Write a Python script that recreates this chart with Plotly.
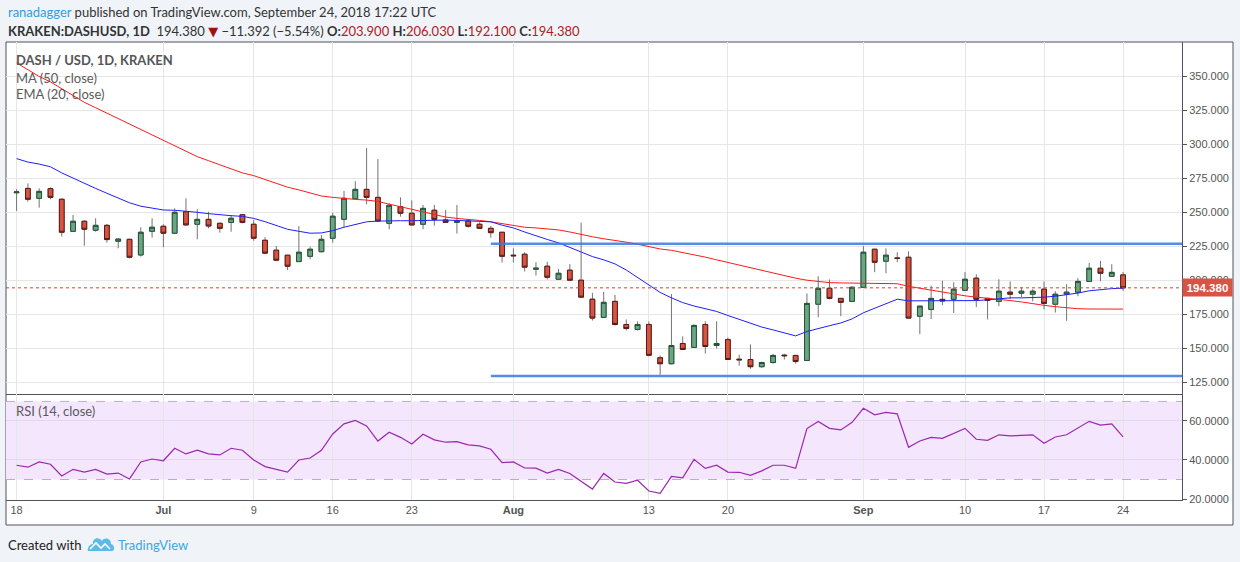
import numpy as np
import pandas as pd
import plotly.graph_objects as go

# ---------------- data ----------------
dates = pd.date_range("2018-06-18", periods=99, freq="D").strftime("%Y-%m-%d").tolist()

open_ = [264.4, 267.6, 260.3, 267.4, 259.6, 236.0, 243.4, 236.8, 240.4, 228.7,
         230.1, 218.6, 236.0, 239.7, 234.6, 250.4, 241.2, 244.8, 241.9, 242.6,
         248.2, 241.2, 229.4, 222.1, 218.4, 213.7, 217.6, 221.0, 230.9, 244.8,
         260.0, 266.9, 261.0, 241.9, 254.1, 249.3, 241.2, 251.5, 244.3, 242.6,
         243.6, 241.2, 238.2, 235.3, 218.4, 219.1, 208.1, 210.3, 200.7, 207.4,
         200.0, 186.0, 172.6, 184.4, 167.4, 163.7, 167.4, 142.9, 138.5, 153.4,
         150.5, 167.4, 151.9, 156.3, 141.8, 141.6, 136.3, 139.4, 144.8, 144.6,
         140.9, 182.3, 194.0, 186.6, 184.4, 194.8, 222.8, 214.0, 216.4, 216.9,
         173.5, 178.5, 185.9, 185.9, 192.6, 201.5, 186.6, 184.4, 191.2, 190.4,
         189.7, 193.4, 182.3, 189.7, 191.2, 199.1, 208.8, 202.9, 203.9]
high = [267.0, 271.3, 267.6, 268.4, 260.2, 248.0, 244.0, 245.6, 241.4, 230.8,
        230.5, 239.0, 245.6, 241.2, 252.9, 260.3, 252.2, 250.4, 242.5, 248.0,
        248.5, 244.3, 231.6, 225.2, 218.6, 239.9, 224.7, 233.3, 249.7, 265.7,
        272.9, 297.3, 289.2, 256.6, 261.0, 258.8, 255.4, 255.4, 251.7, 255.4,
        245.0, 242.5, 239.9, 235.5, 223.5, 220.6, 213.2, 213.5, 208.3, 211.8,
        242.4, 190.7, 191.4, 189.2, 171.1, 169.6, 169.6, 144.6, 189.9, 158.6,
        167.4, 169.8, 169.8, 157.8, 145.1, 152.7, 140.0, 145.8, 145.8, 145.0,
        190.2, 202.9, 200.5, 186.8, 195.4, 225.2, 223.0, 223.5, 220.6, 221.3,
        181.0, 196.0, 199.6, 198.5, 206.1, 204.4, 187.0, 200.7, 199.1, 194.8,
        193.4, 199.1, 191.9, 197.1, 201.5, 212.7, 214.2, 211.8, 206.03]
low = [251.0, 257.8, 253.4, 259.6, 232.1, 235.5, 225.4, 235.7, 227.6, 223.5,
       216.1, 217.4, 231.3, 224.3, 234.3, 240.5, 230.1, 238.2, 235.0, 235.7,
       241.9, 229.1, 219.6, 214.5, 207.4, 213.5, 215.4, 220.5, 227.6, 239.0,
       259.8, 255.9, 243.2, 237.5, 246.8, 240.4, 237.5, 240.1, 242.4, 234.3,
       238.7, 237.8, 231.3, 213.0, 213.0, 206.4, 203.4, 200.5, 200.5, 199.8,
       187.0, 170.3, 172.4, 166.6, 163.0, 163.0, 144.0, 130.3, 138.0, 148.8,
       150.3, 146.0, 149.7, 141.4, 137.1, 134.8, 135.5, 138.5, 141.6, 138.5,
       140.7, 172.6, 185.9, 173.5, 184.0, 194.5, 205.9, 205.1, 213.2, 171.8,
       160.3, 171.4, 181.6, 175.9, 192.4, 180.2, 171.1, 180.9, 185.9, 187.5,
       184.4, 178.5, 176.2, 170.1, 188.2, 198.9, 199.1, 202.7, 192.1]
close = [265.0, 259.6, 265.4, 261.0, 235.3, 243.4, 237.5, 240.4, 229.9, 230.3,
         216.9, 235.3, 239.0, 234.6, 250.0, 240.7, 244.8, 239.9, 238.2, 245.6,
         242.6, 230.9, 219.9, 214.7, 210.3, 220.6, 222.8, 230.1, 247.1, 260.3,
         266.9, 261.0, 243.6, 255.1, 249.3, 240.7, 252.9, 244.8, 242.6, 243.4,
         239.7, 238.2, 235.0, 217.6, 218.0, 209.6, 208.8, 202.2, 205.1, 200.0,
         187.5, 172.1, 183.7, 167.4, 164.4, 167.4, 144.7, 138.5, 151.9, 149.0,
         166.7, 151.2, 153.4, 141.6, 141.4, 136.3, 139.4, 144.6, 144.4, 140.1,
         182.9, 194.0, 186.6, 183.7, 194.8, 220.6, 213.2, 218.4, 216.0, 172.1,
         180.9, 186.6, 184.7, 193.4, 200.7, 185.9, 185.1, 191.9, 189.7, 191.9,
         191.9, 182.9, 189.7, 191.2, 199.1, 208.8, 205.1, 205.77, 194.38]

ma50 = [360, 355, 350, 346, 341, 336, 331, 327, 323, 319,
        315, 311, 307, 303, 299, 295, 291, 288, 285, 282,
        279, 277, 274, 271, 268.5, 266.5, 264, 262, 261, 260,
        259.5, 259, 258, 256, 254, 252.5, 250.5, 248.5, 246.5, 245.5,
        245, 244, 243, 241.5, 240, 239, 238.5, 238, 237, 235.5,
        233.5, 232, 230.5, 229.5, 228, 226.5, 224.5, 223, 222, 220.5,
        219, 217, 215, 213, 211, 209, 207.5, 205.5, 203.5, 201.5,
        200, 199, 198.2, 198, 197.8, 197.8, 197.8, 197.6, 197.4, 195.5,
        194, 192.5, 191, 189.5, 188.5, 187.5, 186.8, 185.8, 185, 184,
        182.5, 181.5, 180.5, 179.5, 179, 178.8, 178.8, 178.7, 178.7]
ema20 = [289.5, 287, 285.5, 283.5, 279, 275, 271, 267.6, 264, 260.5,
         257, 254.5, 253, 251.7, 251.5, 251, 250, 249, 248, 247.5,
         247, 245.5, 243.1, 240.5, 237.5, 236, 234.6, 234.8, 236.5, 239,
         241, 243, 243.5, 243.8, 243.8, 243.8, 244, 244.3, 244.3, 244,
         243.8, 243.5, 243, 240.5, 238.5, 235.5, 232.5, 230, 227.5, 224,
         221, 217.4, 215, 212, 207.5, 202, 196, 191, 187, 183.5,
         181, 178.8, 177, 174, 171, 168, 165.5, 163.4, 161, 159,
         162.2, 164.5, 166.5, 168.5, 171.5, 176, 179.5, 183, 186, 184.8,
         184.8, 184.8, 184.8, 184.8, 184.8, 185, 185.5, 186.5, 187, 187,
         187.2, 187.5, 188.2, 189.3, 190.5, 192.2, 193.2, 193.8, 194.1]
rsi = [37.3, 36.3, 39.0, 37.8, 31.8, 35.2, 33.8, 35.2, 32.8, 33.3,
       30.3, 39.0, 40.5, 39.6, 46.0, 43.1, 45.0, 43.1, 42.6, 46.0,
       45.0, 40.0, 36.6, 35.2, 33.8, 40.0, 41.0, 45.0, 53.3, 58.5,
       60.3, 57.4, 49.7, 54.2, 51.6, 48.2, 53.2, 50.3, 49.1, 49.4,
       47.7, 47.2, 45.5, 38.6, 39.0, 35.9, 35.8, 33.3, 35.2, 33.1,
       29.2, 25.1, 33.1, 28.7, 28.0, 29.6, 24.1, 22.9, 31.6, 30.9,
       40.3, 35.7, 37.3, 33.8, 33.7, 32.1, 34.4, 37.3, 37.3, 35.7,
       56.1, 59.7, 56.2, 55.4, 59.3, 66.5, 63.1, 64.4, 63.6, 46.5,
       49.7, 51.6, 51.1, 53.7, 56.2, 50.6, 50.1, 52.9, 52.3, 52.6,
       52.9, 48.6, 51.8, 52.9, 56.2, 59.8, 57.9, 58.5, 51.8]

levels = [226.8, 129.4]          # drawn horizontal trend lines
level_start = "2018-07-30"
last_price = 194.38

x_range = ["2018-06-17 01:28", "2018-09-29 05:17"]
tick_dates = ["2018-06-18", "2018-07-01", "2018-07-09", "2018-07-16", "2018-07-23",
              "2018-08-01", "2018-08-13", "2018-08-20", "2018-09-01", "2018-09-10",
              "2018-09-17", "2018-09-24"]
tick_text = ["18", "<b>Jul</b>", "9", "16", "23", "<b>Aug</b>", "13", "20",
             "<b>Sep</b>", "10", "17", "24"]
price_ticks = [125, 150, 175, 200, 225, 250, 275, 300, 325, 350]
rsi_ticks = [20, 40, 60]

# ---------------- style ----------------
UP_FILL, UP_LINE = "#6ba583", "#225437"
DN_FILL, DN_LINE = "#d75442", "#5b1a13"
WICK = "#737375"
GRID = "#e6e6e6"
FRAME = "#50535e"
AX_FONT = dict(family="Liberation Sans, Arial", size=11, color="#555555")
TXT = "Lato, Noto Sans, DejaVu Sans"

o = np.array(open_); c = np.array(close)
body_hi = np.maximum(o, c)
body_lo = np.minimum(o, c)

fig = go.Figure()

# wicks (gray)
fig.add_trace(go.Candlestick(
    x=dates, open=open_, high=high, low=low, close=close,
    increasing=dict(line=dict(color=WICK, width=1), fillcolor=UP_FILL),
    decreasing=dict(line=dict(color=WICK, width=1), fillcolor=DN_FILL),
    xaxis="x", yaxis="y", hoverinfo="skip", showlegend=False))
# bodies
fig.add_trace(go.Candlestick(
    x=dates, open=open_, high=body_hi, low=body_lo, close=close,
    increasing=dict(line=dict(color=UP_LINE, width=1), fillcolor=UP_FILL),
    decreasing=dict(line=dict(color=DN_LINE, width=1), fillcolor=DN_FILL),
    xaxis="x", yaxis="y", hoverinfo="skip", showlegend=False))

fig.add_trace(go.Scatter(x=dates, y=ma50, mode="lines",
                         line=dict(color="#ff1a1a", width=1), xaxis="x", yaxis="y",
                         hoverinfo="skip", showlegend=False))
fig.add_trace(go.Scatter(x=dates, y=ema20, mode="lines",
                         line=dict(color="#1f1fff", width=1), xaxis="x", yaxis="y",
                         hoverinfo="skip", showlegend=False))
for lv in levels:
    fig.add_trace(go.Scatter(x=[level_start, x_range[1]], y=[lv, lv], mode="lines",
                             line=dict(color="rgba(58,120,222,0.85)", width=2.5),
                             xaxis="x", yaxis="y", hoverinfo="skip", showlegend=False))

fig.add_trace(go.Scatter(x=dates, y=rsi, mode="lines",
                         line=dict(color="#9c27b0", width=1.2), xaxis="x2", yaxis="y2",
                         hoverinfo="skip", showlegend=False))

# ---------------- geometry ----------------
W, H = 1240, 562
L, R, T, B = 6, 58, 42, 62
pw, ph = W - L - R, H - T - B
def px(xp): return (xp - L) / pw
def py(yp): return (H - B - yp) / ph
split = py(394)

shapes = [
    dict(type="rect", xref="paper", yref="paper", x0=0, x1=px(1233), y0=py(525), y1=1,
         fillcolor="white", line=dict(color=FRAME, width=1), layer="below"),
    dict(type="rect", xref="paper", yref="y2", x0=0, x1=1, y0=30, y1=70,
         fillcolor="#f3e6fd", line=dict(width=0), layer="below"),
    dict(type="line", xref="paper", yref="y2", x0=0, x1=1, y0=70, y1=70,
         line=dict(color="#b8b0c0", width=1, dash="dash")),
    dict(type="line", xref="paper", yref="y2", x0=0, x1=1, y0=30, y1=30,
         line=dict(color="#b8b0c0", width=1, dash="dash")),
    dict(type="line", xref="paper", yref="y", x0=0, x1=1, y0=last_price, y1=last_price,
         line=dict(color="#e8392b", width=1, dash="dot")),
    # TradingView logo
    dict(type="path", xref="paper", yref="paper", xsizemode="pixel", ysizemode="pixel",
         xanchor=px(88), yanchor=py(551),
         path="M0,0 L24,0 C27,0 27,6 23,7 C23,13 16,14 14,10 C11,15 4,13 5,7 C1,7 -1,2 0,0 Z",
         fillcolor="#5bbbe8", line=dict(width=0)),
    dict(type="path", xref="paper", yref="paper", xsizemode="pixel", ysizemode="pixel",
         xanchor=px(88), yanchor=py(551),
         path="M2,2 L8,8 L13,3 L17,7 L22,2",
         line=dict(color="white", width=1.6)),
]

ann = []
def a(x, y, text, size=13, color="#333", family=TXT, xanchor="left", **kw):
    ann.append(dict(xref="paper", yref="paper", x=px(x), y=py(y), text=text,
                    showarrow=False, xanchor=xanchor, yanchor="middle",
                    font=dict(family=family, size=size, color=color), **kw))

a(6, 12, "<span style='color:#2f9ee6'>ranadagger</span> published on TradingView.com, September 24, 2018 17:22 UTC")
RED = "#b0201e"
a(6, 31, "<b>KRAKEN:DASHUSD, 1D</b>  194.380 <span style='color:#9e1212'>▼</span> −11.392 (−5.54%) "
         f"<b>O:</b><span style='color:{RED}'>203.900</span> <b>H:</b><span style='color:{RED}'>206.030</span> "
         f"<b>L:</b><span style='color:{RED}'>192.100</span> <b>C:</b><span style='color:{RED}'>194.380</span>")
a(14, 60, "<b>DASH / USD, 1D, KRAKEN</b>", color="#555555")
a(14, 78, "MA (50, close)", color="#5a5a5a")
a(14, 94, "EMA (20, close)", color="#5a5a5a")
a(14, 411, "RSI (14, close)", color="#5a5a5a")
a(6, 545, "Created with", color="#222")
a(116, 545, "TradingView", color="#3ba7e6")

ann.append(dict(xref="paper", yref="y", x=1, y=last_price, text="<b>194.380</b>",
                showarrow=False, xanchor="left", yanchor="middle", bgcolor="#d75442",
                width=47, height=15, borderpad=1, align="center",
                font=dict(family="Liberation Sans, Arial", size=11.5, color="white")))

fig.update_layout(
    width=W, height=H, margin=dict(l=L, r=R, t=T, b=B),
    paper_bgcolor="#f0f3f7", plot_bgcolor="rgba(0,0,0,0)",
    boxgap=0.4, showlegend=False, hovermode=False,
    shapes=shapes, annotations=ann,
    xaxis=dict(type="date", domain=[0, 1], anchor="y", range=x_range,
               tickvals=tick_dates, ticktext=tick_text, showticklabels=False,
               showgrid=True, gridcolor=GRID, zeroline=False,
               showline=True, linecolor=FRAME, linewidth=1,
               rangeslider=dict(visible=False)),
    yaxis=dict(domain=[split, 1], anchor="x", side="right", range=[116.2, 375.4],
               tickvals=price_ticks, ticktext=[f"{v:.3f}" for v in price_ticks],
               ticks="outside", ticklen=4, tickcolor="#555", tickfont=AX_FONT,
               showgrid=True, gridcolor=GRID, zeroline=False,
               showline=True, linecolor=FRAME, linewidth=1),
    xaxis2=dict(type="date", domain=[0, 1], anchor="y2", matches="x", range=x_range,
                tickvals=tick_dates, ticktext=tick_text, tickfont=AX_FONT,
                showgrid=True, gridcolor=GRID, zeroline=False, ticks="",
                showline=True, linecolor=FRAME, linewidth=1),
    yaxis2=dict(domain=[0, split], anchor="x2", side="right", range=[19.5, 73.8],
                tickvals=rsi_ticks, ticktext=[f"{v:.4f}" for v in rsi_ticks],
                ticks="outside", ticklen=4, tickcolor="#555", tickfont=AX_FONT,
                showgrid=True, gridcolor="#e2dae8", zeroline=False,
                showline=True, linecolor=FRAME, linewidth=1),
)

fig.write_html("out.html", config={"displayModeBar": False, "staticPlot": True},
               post_script="document.body.style.margin='0';document.body.style.overflow='hidden';")
